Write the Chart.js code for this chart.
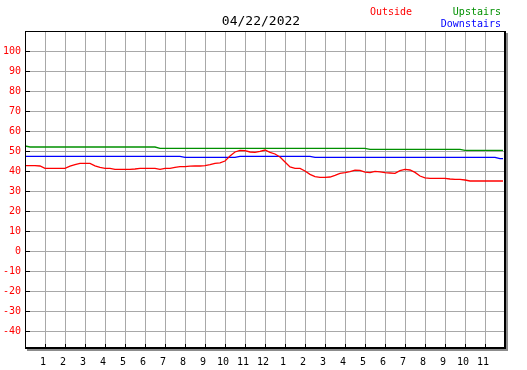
<!DOCTYPE html>
<html><head><meta charset="utf-8">
<script src="https://cdn.jsdelivr.net/npm/chart.js@4"></script>
<style>html,body{margin:0;padding:0;background:#fff}canvas{display:block}</style>
</head><body>
<canvas id="c" width="527" height="370"></canvas>
<script>
const chartTitle = '04/22/2022';
const seriesNames = ['Outside', 'Upstairs', 'Downstairs'];
const seriesColors = ['#ff0000', '#009000', '#0000ff'];
const hourTicks = [1,2,3,4,5,6,7,8,9,10,11,12,13,14,15,16,17,18,19,20,21,22,23];
const hourLabels = ['1','2','3','4','5','6','7','8','9','10','11','12','1','2','3','4','5','6','7','8','9','10','11'];
const yTicks = [-40,-30,-20,-10,0,10,20,30,40,50,60,70,80,90,100];
const hours = [0,0.25,0.5,0.75,1,1.25,1.5,1.75,2,2.25,2.5,2.75,3,3.25,3.5,3.75,4,4.25,4.5,4.75,5,5.25,5.5,5.75,6,6.25,6.5,6.75,7,7.25,7.5,7.75,8,8.25,8.5,8.75,9,9.25,9.5,9.75,10,10.25,10.5,10.75,11,11.25,11.5,11.75,12,12.25,12.5,12.75,13,13.25,13.5,13.75,14,14.25,14.5,14.75,15,15.25,15.5,15.75,16,16.25,16.5,16.75,17,17.25,17.5,17.75,18,18.25,18.5,18.75,19,19.25,19.5,19.75,20,20.25,20.5,20.75,21,21.25,21.5,21.75,22,22.25,22.5,22.75,23,23.25,23.5,23.75,23.9];
const outside = [42.7,42.7,42.7,42.5,41.3,41.3,41.3,41.3,41.3,42.4,43.2,43.8,43.8,43.8,42.6,41.8,41.3,41.3,40.8,40.8,40.8,40.8,41.0,41.3,41.3,41.3,41.3,40.8,41.3,41.3,41.8,42.2,42.2,42.4,42.5,42.5,42.7,43.2,43.8,44.1,45.0,47.5,49.5,50.3,50.2,49.5,49.3,49.8,50.5,49.3,48.5,47.0,44.5,42.0,41.3,41.3,40.0,38.3,37.2,36.8,36.8,37.0,37.8,38.8,39.2,39.7,40.4,40.3,39.4,39.2,39.8,39.6,39.2,39.0,38.8,40.2,40.8,40.5,39.3,37.5,36.6,36.3,36.3,36.3,36.3,36.0,35.8,35.8,35.5,35.0,35.0,35.0,35.0,35.0,35.0,35.0,35.0];
const upstairs = [52.5,52.0,52.0,52.0,52.0,52.0,52.0,52.0,52.0,52.0,52.0,52.0,52.0,52.0,52.0,52.0,52.0,52.0,52.0,52.0,52.0,52.0,52.0,52.0,52.0,52.0,52.0,51.3,51.3,51.3,51.3,51.3,51.3,51.3,51.3,51.3,51.3,51.3,51.3,51.3,51.3,51.3,51.3,51.3,51.3,51.3,51.3,51.3,51.3,51.3,51.3,51.3,51.3,51.3,51.3,51.3,51.3,51.3,51.3,51.3,51.3,51.3,51.3,51.3,51.3,51.3,51.3,51.3,51.3,50.8,50.8,50.8,50.8,50.8,50.8,50.8,50.8,50.8,50.8,50.8,50.8,50.8,50.8,50.8,50.8,50.8,50.8,50.8,50.3,50.3,50.3,50.3,50.3,50.3,50.3,50.3,50.3,50.3,50.3];
const downstairs = [47.3,47.3,47.3,47.3,47.3,47.3,47.3,47.3,47.3,47.3,47.3,47.3,47.3,47.3,47.3,47.3,47.3,47.3,47.3,47.3,47.3,47.3,47.3,47.3,47.3,47.3,47.3,47.3,47.3,47.3,47.3,47.3,46.8,46.8,46.8,46.8,46.8,46.8,46.8,46.8,46.8,46.8,46.8,47.3,47.3,47.3,47.3,47.3,47.3,47.3,47.3,47.3,47.3,47.3,47.3,47.3,47.3,47.3,46.8,46.8,46.8,46.8,46.8,46.8,46.8,46.8,46.8,46.8,46.8,46.8,46.8,46.8,46.8,46.8,46.8,46.8,46.8,46.8,46.8,46.8,46.8,46.8,46.8,46.8,46.8,46.8,46.8,46.8,46.8,46.8,46.8,46.8,46.8,46.8,46.8,46.2,46.2,46.2,46.2];

const FONT = "'DejaVu Sans Mono', monospace";
Chart.defaults.font.family = FONT;
const toPts = arr => arr.map((v, i) => ({x: hours[i], y: v}));

const framePlugin = {
  id: 'frame',
  afterDraw(chart) {
    const ctx = chart.ctx, a = chart.chartArea;
    const xs = chart.scales.x, ys = chart.scales.y;
    ctx.save();
    // shadows
    ctx.fillStyle = '#8c8c8c';
    ctx.fillRect(a.right + 1, a.top + 2, 2, a.bottom - a.top + 1);
    ctx.fillRect(a.left + 2, a.bottom + 1, a.right - a.left + 1, 2);
    // frame
    ctx.fillStyle = '#000';
    ctx.fillRect(a.left, a.top, a.right - a.left, 1);
    ctx.fillRect(a.left, a.top, 1, a.bottom - a.top);
    ctx.fillRect(a.right - 1, a.top, 2, a.bottom - a.top + 1);
    ctx.fillRect(a.left, a.bottom - 1, a.right - a.left + 1, 2);
    // inner ticks
    hourTicks.forEach(h => {
      const px = Math.round(xs.getPixelForValue(h) - 0.5);
      ctx.fillRect(px, a.bottom - 4, 1, 3);
    });
    yTicks.forEach(v => {
      const py = Math.round(ys.getPixelForValue(v) - 0.5);
      ctx.fillRect(a.left + 1, py, 4, 1);
    });
    // title
    ctx.textBaseline = 'alphabetic';
    ctx.textAlign = 'center';
    ctx.font = '13px ' + FONT;
    ctx.fillStyle = '#000';
    ctx.fillText(chartTitle, 261, 25);
    // legend
    ctx.font = '10px ' + FONT;
    ctx.textAlign = 'left';
    ctx.fillStyle = seriesColors[0];
    ctx.fillText(seriesNames[0], 370, 15);
    ctx.textAlign = 'right';
    ctx.fillStyle = seriesColors[1];
    ctx.fillText(seriesNames[1], 501, 15);
    ctx.fillStyle = seriesColors[2];
    ctx.fillText(seriesNames[2], 501, 27);
    ctx.restore();
  }
};

new Chart(document.getElementById('c'), {
  type: 'line',
  data: {
    datasets: [
      {label: seriesNames[0], data: toPts(outside), borderColor: seriesColors[0], order: 0},
      {label: seriesNames[1], data: toPts(upstairs), borderColor: seriesColors[1], order: 2},
      {label: seriesNames[2], data: toPts(downstairs), borderColor: seriesColors[2], order: 1}
    ]
  },
  options: {
    responsive: false,
    animation: false,
    events: [],
    layout: {padding: {top: 31, right: 22, left: 0, bottom: 0}},
    elements: {
      line: {borderWidth: 1.3, tension: 0, fill: false},
      point: {radius: 0}
    },
    plugins: {legend: {display: false}, title: {display: false}, tooltip: {enabled: false}},
    scales: {
      x: {
        type: 'linear', min: 0, max: 24,
        afterBuildTicks: s => { s.ticks = hourTicks.map(v => ({value: v})); },
        afterFit: s => { s.height = 22; },
        grid: {color: '#a8a8a8', lineWidth: 1, drawTicks: false},
        border: {display: false},
        ticks: {
          color: '#000', font: {size: 10, family: FONT}, padding: 8, labelOffset: -2,
          maxRotation: 0, autoSkip: false,
          callback: (v, i) => hourLabels[i]
        }
      },
      y: {
        type: 'linear', min: -48.5, max: 110,
        afterBuildTicks: s => { s.ticks = yTicks.map(v => ({value: v})); },
        afterFit: s => { s.width = 25; },
        grid: {color: '#a8a8a8', lineWidth: 1, drawTicks: false},
        border: {display: false},
        ticks: {
          color: '#ff0000', font: {size: 10, family: FONT}, padding: 4,
          autoSkip: false,
          callback: v => String(v)
        }
      }
    }
  },
  plugins: [framePlugin]
});
</script>
</body></html>
